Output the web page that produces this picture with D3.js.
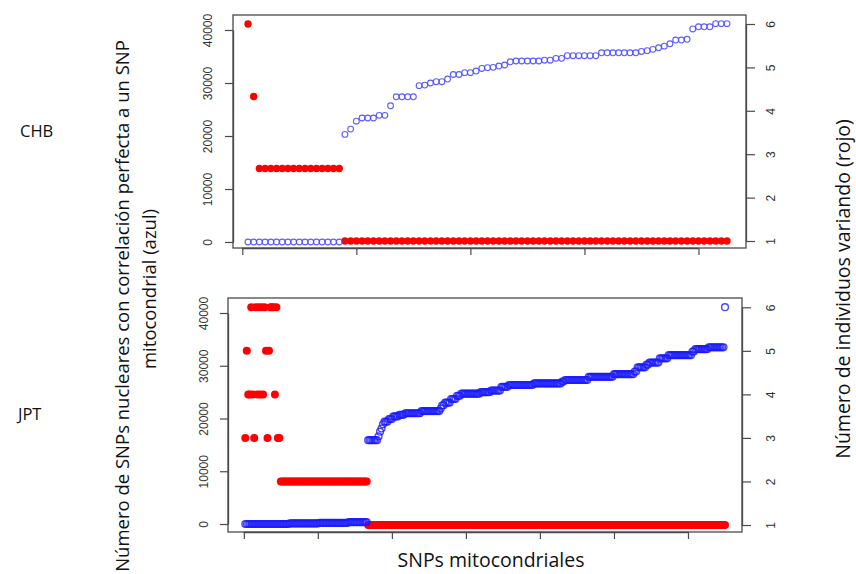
<!DOCTYPE html>
<html><head><meta charset="utf-8">
<script src="https://cdn.jsdelivr.net/npm/d3@7"></script>
<style>
html,body{margin:0;padding:0;background:#fff;}
svg{display:block;}
</style></head>
<body>
<svg id="chart" width="856" height="574"></svg>
<script>
// ---------- DATA ----------
// CHB panel (85 mitochondrial SNPs)
const chbBlue = [0,0,0,0,0,0,0,0,0,0,0,0,0,0,0,0,0,
  20300,21300,22800,23400,23400,23400,23900,23900,25700,27400,27400,27400,27400,
  29500,29600,30000,30250,30250,30750,31600,31600,31950,31950,32250,32750,32900,
  32950,33200,33400,34000,34150,34150,34150,34150,34150,34300,34300,34650,34650,
  35150,35150,35150,35150,35150,35150,35700,35700,35700,35700,35700,35700,35700,
  35950,36100,36350,36650,36950,37400,38100,38100,38250,40200,40600,40600,40600,
  41200,41200,41200];
const chbRed = [6,4.33,2.67,2.67,2.67,2.67,2.67,2.67,2.67,2.67,2.67,2.67,2.67,2.67,2.67,2.67,2.67,
  1,1,1,1,1,1,1,1,1,1,1,1,1,1,1,1,1,1,1,1,1,1,1,1,1,1,1,1,1,1,1,1,1,1,1,1,1,1,1,1,1,1,1,
  1,1,1,1,1,1,1,1,1,1,1,1,1,1,1,1,1,1,1,1,1,1,1,1,1];

// JPT panel (325 mitochondrial SNPs), given as [value, run length]
const jptBlueRuns = [[0,30],[100,20],[200,20],[350,13],[15900,7],[16600,1],[17500,1],[18100,1],
  [18900,1],[19400,3],[19900,3],[20400,4],[20700,4],[21000,11],[21400,13],[21900,1],[22500,2],
  [23000,4],[23700,4],[24300,3],[24700,13],[25000,7],[25300,7],[26000,5],[26350,17],[26650,19],
  [27000,2],[27300,16],[27900,17],[28400,14],[28900,2],[29700,6],[30200,2],[30600,7],[31400,6],
  [32000,16],[32700,2],[33150,9],[33500,11],[41100,1]];
const jptRedRuns = [[3,1],[5,1],[4,1],[4,1],[6,1],[4,1],[3,1],[6,1],[4,1],[6,1],[4,1],[6,1],[4,1],
  [6,1],[5,1],[3,1],[5,1],[6,3],[4,1],[6,1],[3,2],[2,59],[1,242]];

const leftTicks = [0,10000,20000,30000,40000];
const rightTicks = [1,2,3,4,5,6];
const chbXTicks = [0,20,40,60,80];
const jptXTicks = [0,50,100,150,200,250,300];

const groupLabels = ["CHB","JPT"];
const yTitleLeft = ["Número de SNPs nucleares con correlación perfecta a un SNP","mitocondrial (azul)"];
const yTitleRight = "Número de individuos variando (rojo)";
const xTitle = "SNPs mitocondriales";

// ---------- HELPERS ----------
function expand(runs){const out=[];runs.forEach(([v,n])=>{for(let k=0;k<n;k++)out.push(v);});return out;}
const jptBlue = expand(jptBlueRuns);
const jptRed = expand(jptRedRuns);

const svg = d3.select("#chart");
const axisColor = "#4a4a4a";
const tickFont = "'Liberation Sans', Arial, sans-serif";
const titleFont = "'Open Sans', 'Noto Sans', sans-serif";

function panel(cfg){
  const g = svg.append("g");
  const x = d3.scaleLinear().domain([1, cfg.blue.length]).range(cfg.xRange);
  const yL = d3.scaleLinear().domain([0,40000]).range(cfg.yLRange);
  const yR = d3.scaleLinear().domain([1,6]).range(cfg.yRRange);

  g.append("g").selectAll("circle").data(cfg.red).join("circle")
    .attr("cx",(d,i)=>x(i+1)).attr("cy",d=>yR(d)).attr("r",cfg.rRed)
    .attr("fill","#ff0000");
  g.append("g").selectAll("circle").data(cfg.blue).join("circle")
    .attr("cx",(d,i)=>x(i+1)).attr("cy",d=>yL(d)).attr("r",cfg.rBlue)
    .attr("fill","none").attr("stroke",cfg.blueColor).attr("stroke-width",cfg.blueW)
    .attr("stroke-opacity",cfg.blueOpacity);

  const [bx0,bx1,by0,by1] = cfg.box;
  g.append("rect").attr("x",bx0).attr("y",by0).attr("width",bx1-bx0).attr("height",by1-by0)
    .attr("fill","none").attr("stroke",axisColor).attr("stroke-width",1.3);

  const la = g.append("g").attr("transform",`translate(${bx0},0)`)
    .call(d3.axisLeft(yL).tickValues(leftTicks).tickSize(8).tickSizeOuter(0).tickFormat(d3.format("d")));
  la.select(".domain").attr("stroke",axisColor).attr("stroke-width",1.3);
  la.selectAll(".tick line").attr("stroke",axisColor).attr("stroke-width",1.2);
  la.selectAll(".tick text").attr("x",0).attr("dy",null).attr("text-anchor","middle")
    .attr("dominant-baseline","central")
    .attr("transform",`translate(${cfg.leftLabelX - bx0},0) rotate(-90)`)
    .attr("font-family",tickFont).attr("font-size",cfg.tickSize).attr("fill","#333");

  const ra = g.append("g").attr("transform",`translate(${bx1},0)`)
    .call(d3.axisRight(yR).tickValues(rightTicks).tickSize(9).tickSizeOuter(0).tickFormat(d3.format("d")));
  ra.select(".domain").attr("stroke",axisColor).attr("stroke-width",1.3);
  ra.selectAll(".tick line").attr("stroke",axisColor).attr("stroke-width",1.2);
  ra.selectAll(".tick text").attr("x",0).attr("dy",null).attr("text-anchor","middle")
    .attr("dominant-baseline","central")
    .attr("transform",`translate(${cfg.rightLabelX - bx1},0) rotate(-90)`)
    .attr("font-family",tickFont).attr("font-size",cfg.tickSize).attr("fill","#333");

  const ba = g.append("g").attr("transform",`translate(0,${by1})`)
    .call(d3.axisBottom(x).tickValues(cfg.xTicks).tickSize(7).tickSizeOuter(0).tickFormat(""));
  ba.select(".domain").remove();
  ba.selectAll(".tick line").attr("stroke",axisColor).attr("stroke-width",1.2);
  ba.append("line").attr("x1",x(cfg.xTicks[0])).attr("x2",x(cfg.xTicks[cfg.xTicks.length-1]))
    .attr("y1",0.5).attr("y2",0.5).attr("stroke",axisColor).attr("stroke-width",1.3);
}

panel({
  blue: chbBlue, red: chbRed,
  xRange:[248,727], yLRange:[242,30], yRRange:[241,24],
  box:[233,746,15,248], xTicks: chbXTicks,
  rRed:3.7, rBlue:2.9, blueColor:"#4d4dff", blueW:1.1, blueOpacity:0.9,
  leftLabelX:208, rightLabelX:771, tickSize:12
});
panel({
  blue: jptBlue, red: jptRed,
  xRange:[245.3,725], yLRange:[524,313], yRRange:[525,307.3],
  box:[228,742,298,532], xTicks: jptXTicks,
  rRed:4, rBlue:3.4, blueColor:"#1a1aff", blueW:1.4, blueOpacity:0.8,
  leftLabelX:204, rightLabelX:771, tickSize:12
});

// ---------- TEXT ----------
function label(x,y,txt,rot,size,anchor){
  return svg.append("text")
    .attr("transform",`translate(${x},${y})${rot?" rotate(-90)":""}`)
    .attr("text-anchor",anchor||"middle").attr("dominant-baseline","central")
    .attr("font-family",titleFont).attr("font-size",size).attr("fill","#111").text(txt);
}
label(20,130,groupLabels[0],false,16.5,"start");
label(18,413,groupLabels[1],false,16.5,"start");
label(121,306,yTitleLeft[0],true,18.5);
label(148,289,yTitleLeft[1],true,18.5);
label(842,289,yTitleRight,true,19.5);
label(491,559,xTitle,false,19.5);
</script>
</body></html>
